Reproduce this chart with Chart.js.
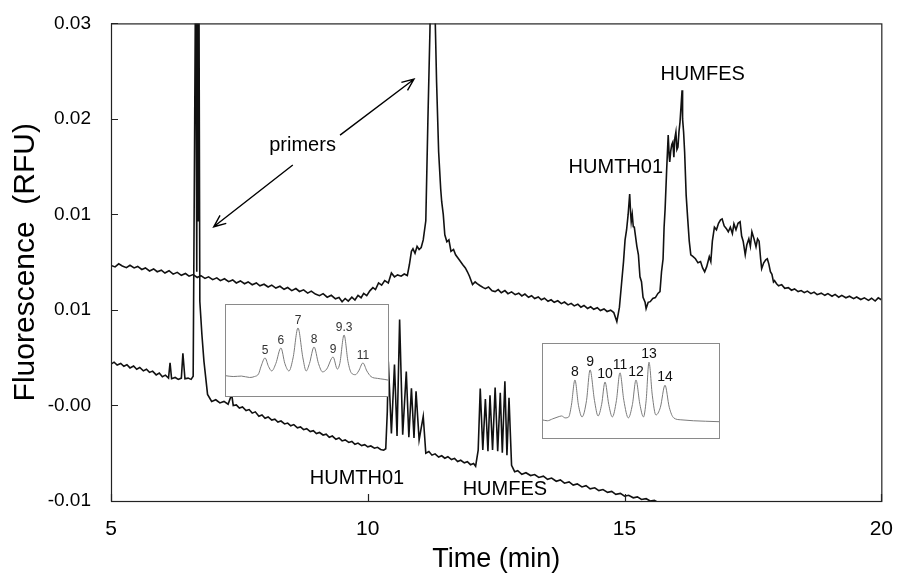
<!DOCTYPE html>
<html>
<head>
  <meta charset="utf-8">
  <title>Fluorescence trace</title>
  <script src="https://cdn.jsdelivr.net/npm/chart.js@4"></script>
  <style>
    html, body { margin: 0; padding: 0; background: #fff; }
    #wrap { position: relative; width: 901px; height: 580px; }
    #mainChart { position: absolute; left: 0; top: 0; }
    .inset { position: absolute; background: #fff; }
    #inset1 { left: 225px; top: 304px; width: 164px; height: 93px; }
    #inset2 { left: 542px; top: 343px; width: 178px; height: 96px; }
  </style>
</head>
<body>
  <div id="wrap">
    <canvas id="mainChart" width="901" height="580"></canvas>
    <div class="inset" id="inset1"><canvas id="inset1Chart"></canvas></div>
    <div class="inset" id="inset2"><canvas id="inset2Chart"></canvas></div>
  </div>

  <script>
    // axis ticks
    const xTickValues = [5, 10, 15, 20];
    const xTickLabels = ['5', '10', '15', '20'];
    const yTickValues = [-0.01, -0.0025, 0.005, 0.0125, 0.02, 0.0275];
    const yTickLabels = ['-0.01', '-0.00', '0.01', '0.01', '0.02', '0.03'];

    // upper electropherogram [time (min), RFU]
    const upperTrace = [
      [5.00,0.00850],[5.08,0.00838],[5.15,0.00862],[5.22,0.00845],[5.30,0.00832],[5.37,0.00851],
      [5.45,0.00830],[5.52,0.00842],[5.60,0.00818],[5.67,0.00830],[5.75,0.00806],[5.83,0.00822],
      [5.90,0.00800],[5.98,0.00812],[6.05,0.00790],[6.13,0.00808],[6.21,0.00781],[6.29,0.00795],
      [6.37,0.00772],[6.45,0.00786],[6.52,0.00765],[6.60,0.00778],[6.68,0.00755],[6.75,0.00770],
      [6.83,0.00748],[6.90,0.00760],[6.98,0.00738],[7.06,0.00752],[7.13,0.00730],[7.21,0.00745],
      [7.29,0.00722],[7.37,0.00736],[7.44,0.00712],[7.52,0.00728],[7.60,0.00706],[7.67,0.00720],
      [7.75,0.00698],[7.83,0.00712],[7.90,0.00690],[7.98,0.00702],[8.06,0.00680],[8.13,0.00695],
      [8.21,0.00672],[8.29,0.00686],[8.37,0.00662],[8.44,0.00676],[8.52,0.00652],[8.60,0.00668],
      [8.67,0.00645],[8.75,0.00658],[8.83,0.00632],[8.90,0.00648],[8.98,0.00625],[9.06,0.00612],
      [9.13,0.00628],[9.21,0.00600],[9.29,0.00615],[9.37,0.00588],[9.44,0.00598],[9.50,0.00565],
      [9.56,0.00590],[9.62,0.00570],[9.69,0.00600],[9.75,0.00578],[9.81,0.00615],[9.87,0.00596],
      [9.92,0.00630],[9.98,0.00612],[10.04,0.00650],[10.10,0.00675],[10.15,0.00660],[10.21,0.00712],
      [10.27,0.00695],[10.33,0.00730],[10.40,0.00712],[10.46,0.00790],[10.52,0.00760],[10.58,0.00775],
      [10.65,0.00765],[10.71,0.00782],[10.77,0.00770],[10.81,0.00855],[10.85,0.00960],[10.88,0.00980],
      [10.92,0.00945],[10.96,0.01000],[11.00,0.00975],[11.04,0.00990],[11.08,0.01050],[11.13,0.01200],
      [11.17,0.01975],[11.21,0.02680],[11.24,0.03400],[11.28,0.03400],[11.31,0.02836],[11.34,0.02288],
      [11.38,0.01740],[11.42,0.01450],[11.44,0.01348],[11.47,0.01250],[11.50,0.01090],[11.54,0.01035],
      [11.58,0.01050],[11.62,0.00960],[11.67,0.00975],[11.71,0.00933],[11.77,0.00900],[11.85,0.00855],
      [11.90,0.00830],[11.94,0.00800],[11.98,0.00765],[12.04,0.00699],[12.09,0.00720],[12.13,0.00706],
      [12.19,0.00690],[12.25,0.00675],[12.29,0.00667],[12.35,0.00680],[12.42,0.00650],[12.48,0.00644],
      [12.54,0.00660],[12.60,0.00635],[12.67,0.00652],[12.73,0.00628],[12.80,0.00642],[12.87,0.00620],
      [12.94,0.00632],[13.00,0.00610],[13.06,0.00625],[13.13,0.00600],[13.19,0.00612],[13.25,0.00590],
      [13.32,0.00602],[13.38,0.00580],[13.44,0.00592],[13.51,0.00568],[13.57,0.00580],[13.63,0.00560],
      [13.70,0.00572],[13.77,0.00550],[13.83,0.00562],[13.90,0.00540],[13.96,0.00552],[14.02,0.00532],
      [14.09,0.00545],[14.15,0.00522],[14.21,0.00535],[14.28,0.00512],[14.34,0.00525],[14.40,0.00505],
      [14.47,0.00518],[14.53,0.00495],[14.60,0.00508],[14.66,0.00488],[14.73,0.00498],[14.79,0.00480],
      [14.85,0.00409],[14.90,0.00520],[14.94,0.00700],[14.98,0.00880],[15.01,0.01050],[15.04,0.01130],
      [15.07,0.01250],[15.10,0.01411],[15.12,0.01250],[15.13,0.01192],[15.15,0.01250],[15.17,0.01153],
      [15.19,0.01150],[15.21,0.01090],[15.24,0.01000],[15.27,0.00933],[15.30,0.00760],[15.33,0.00722],
      [15.36,0.00600],[15.40,0.00560],[15.42,0.00511],[15.46,0.00560],[15.50,0.00565],[15.55,0.00590],
      [15.60,0.00597],[15.65,0.00630],[15.69,0.00644],[15.72,0.00800],[15.75,0.00900],[15.77,0.01150],
      [15.79,0.01294],[15.82,0.01600],[15.85,0.01873],[15.87,0.01700],[15.88,0.01662],[15.90,0.01750],
      [15.92,0.01800],[15.94,0.01818],[15.96,0.01700],[15.98,0.01850],[16.00,0.01897],[16.02,0.01760],
      [16.04,0.01779],[16.06,0.01900],[16.08,0.01975],[16.10,0.02100],[16.12,0.02225],[16.13,0.02000],
      [16.15,0.01897],[16.17,0.01740],[16.20,0.01400],[16.23,0.01215],[16.26,0.01040],[16.29,0.00933],
      [16.33,0.00920],[16.38,0.00902],[16.43,0.00870],[16.48,0.00880],[16.52,0.00830],[16.56,0.00800],
      [16.60,0.00840],[16.65,0.00918],[16.68,0.00880],[16.71,0.01040],[16.75,0.01150],[16.79,0.01129],
      [16.83,0.01180],[16.87,0.01208],[16.90,0.01215],[16.94,0.01160],[16.98,0.01140],[17.02,0.01114],
      [17.06,0.01150],[17.10,0.01100],[17.13,0.01176],[17.17,0.01130],[17.21,0.01180],[17.25,0.01192],
      [17.28,0.01080],[17.31,0.01040],[17.35,0.00933],[17.38,0.01010],[17.42,0.01059],[17.45,0.01000],
      [17.48,0.01114],[17.52,0.01060],[17.56,0.00996],[17.59,0.01059],[17.62,0.01040],[17.65,0.00900],
      [17.67,0.00824],[17.71,0.00870],[17.75,0.00894],[17.78,0.00902],[17.81,0.00860],[17.84,0.00800],
      [17.87,0.00780],[17.90,0.00720],[17.92,0.00730],[17.96,0.00706],[18.00,0.00690],[18.06,0.00699],
      [18.12,0.00670],[18.19,0.00675],[18.25,0.00655],[18.31,0.00665],[18.38,0.00644],[18.44,0.00652],
      [18.50,0.00636],[18.56,0.00648],[18.63,0.00628],[18.69,0.00640],[18.75,0.00620],[18.83,0.00632],
      [18.90,0.00615],[18.96,0.00628],[19.04,0.00608],[19.10,0.00622],[19.17,0.00600],[19.23,0.00615],
      [19.31,0.00596],[19.38,0.00608],[19.46,0.00589],[19.52,0.00602],[19.60,0.00582],[19.67,0.00595],
      [19.75,0.00575],[19.81,0.00592],[19.88,0.00570],[19.94,0.00595],[20.00,0.00580]
    ];

    // lower electropherogram [time (min), RFU]
    const lowerTrace = [
      [5.00,0.00075],[5.06,0.00090],[5.12,0.00068],[5.19,0.00080],[5.25,0.00058],[5.31,0.00070],
      [5.37,0.00045],[5.44,0.00060],[5.50,0.00035],[5.56,0.00048],[5.63,0.00022],[5.69,0.00035],
      [5.75,0.00010],[5.81,0.00020],[5.88,-0.00010],[5.94,0.00005],[6.00,-0.00025],[6.06,-0.00012],
      [6.12,-0.00035],[6.15,0.00085],[6.18,-0.00040],[6.25,-0.00030],[6.31,-0.00045],[6.37,-0.00035],
      [6.40,0.00160],[6.44,-0.00040],[6.50,-0.00035],[6.56,-0.00045],[6.60,-0.00020],[6.63,0.02000],
      [6.65,0.03400],[6.67,0.00800],[6.68,0.03400],[6.70,0.01200],[6.71,0.03400],[6.73,0.00565],
      [6.77,0.00307],[6.81,0.00096],[6.88,-0.00163],
      [6.96,-0.00218],[7.04,-0.00205],[7.12,-0.00230],[7.20,-0.00218],[7.28,-0.00240],[7.35,-0.00163],
      [7.38,-0.00250],[7.44,-0.00245],[7.50,-0.00270],[7.56,-0.00262],[7.63,-0.00290],[7.69,-0.00282],
      [7.75,-0.00310],[7.81,-0.00300],[7.88,-0.00335],[7.94,-0.00325],[8.00,-0.00350],[8.06,-0.00340],
      [8.13,-0.00365],[8.19,-0.00358],[8.25,-0.00380],[8.31,-0.00372],[8.38,-0.00395],[8.44,-0.00388],
      [8.50,-0.00410],[8.56,-0.00400],[8.63,-0.00425],[8.69,-0.00418],[8.75,-0.00440],[8.81,-0.00432],
      [8.88,-0.00455],[8.94,-0.00448],[9.00,-0.00470],[9.06,-0.00462],[9.13,-0.00482],[9.19,-0.00475],
      [9.25,-0.00500],[9.31,-0.00490],[9.38,-0.00515],[9.44,-0.00505],[9.50,-0.00528],[9.56,-0.00520],
      [9.63,-0.00540],[9.69,-0.00532],[9.75,-0.00555],[9.81,-0.00545],[9.88,-0.00565],[9.94,-0.00558],
      [10.00,-0.00575],[10.06,-0.00568],[10.13,-0.00585],[10.19,-0.00578],[10.25,-0.00595],[10.31,-0.00601],
      [10.35,-0.00590],[10.38,-0.00300],[10.40,0.00096],[10.46,-0.00470],[10.52,0.00072],[10.57,-0.00490],
      [10.62,0.00425],[10.68,-0.00480],[10.75,0.00017],[10.80,-0.00500],[10.85,-0.00116],[10.90,-0.00505],
      [10.94,-0.00139],[11.00,-0.00520],[11.08,-0.00335],[11.13,-0.00625],[11.19,-0.00612],[11.25,-0.00640],
      [11.31,-0.00630],[11.38,-0.00655],[11.44,-0.00645],[11.50,-0.00664],[11.56,-0.00652],[11.63,-0.00675],
      [11.69,-0.00665],[11.75,-0.00690],[11.81,-0.00680],[11.88,-0.00700],[11.94,-0.00692],[12.00,-0.00715],
      [12.06,-0.00705],[12.10,-0.00727],[12.15,-0.00600],[12.19,-0.00116],[12.24,-0.00600],[12.29,-0.00200],
      [12.34,-0.00610],[12.38,-0.00170],[12.43,-0.00600],[12.48,-0.00110],[12.53,-0.00610],[12.58,-0.00150],
      [12.62,-0.00620],[12.67,-0.00060],[12.71,-0.00640],[12.75,-0.00190],[12.80,-0.00720],[12.86,-0.00770],
      [12.92,-0.00762],[13.00,-0.00790],[13.08,-0.00778],[13.17,-0.00800],[13.25,-0.00792],[13.33,-0.00815],
      [13.42,-0.00805],[13.50,-0.00830],[13.58,-0.00820],[13.67,-0.00845],[13.75,-0.00835],[13.83,-0.00860],
      [13.92,-0.00850],[14.00,-0.00875],[14.08,-0.00866],[14.17,-0.00890],[14.25,-0.00880],[14.33,-0.00905],
      [14.42,-0.00896],[14.50,-0.00918],[14.58,-0.00910],[14.67,-0.00932],[14.75,-0.00925],[14.83,-0.00948],
      [14.92,-0.00940],[15.00,-0.00962],[15.08,-0.00955],[15.17,-0.00975],[15.25,-0.00968],[15.33,-0.00988],
      [15.42,-0.00982],[15.50,-0.01000],[15.58,-0.00995],[15.67,-0.01015]
    ];

    // text annotations [label, time, RFU]
    const noteLabels = ['primers', 'HUMTH01', 'HUMFES', 'HUMTH01', 'HUMFES'];
    const noteTimes  = [8.73, 14.83, 16.52, 9.79, 12.67];
    const noteValues = [0.01795, 0.01622, 0.02351, -0.00820, -0.00907];
    // arrows from "primers": [startTime, startRFU, endTime, endRFU]
    const arrowLines = [
      [8.54, 0.01638, 7.00, 0.01153],
      [9.46, 0.01873, 10.90, 0.02312]
    ];

    // inset 1 (HUMTH01 alleles), relative position 0-100 / relative signal 0-1
    const inset1Trace = [
      [0,0.23],[5,0.22],[10,0.225],[15,0.21],[18,0.22],[20.5,0.25],[22,0.33],[24.4,0.42],[26.5,0.33],
      [28.5,0.28],[31,0.36],[34.1,0.527],[36.5,0.36],[39,0.28],[41.5,0.42],[44.5,0.742],[47.5,0.42],
      [49.5,0.28],[51.5,0.36],[54.3,0.538],[57,0.36],[59.5,0.27],[62,0.30],[65.9,0.43],[68.5,0.30],
      [70,0.36],[72.6,0.667],[75,0.38],[77,0.26],[79.5,0.24],[81.5,0.28],[84.1,0.366],[86.5,0.28],
      [89,0.22],[93,0.20],[97,0.19],[100,0.18]
    ];
    const inset1PeakX = [24.4, 34.1, 44.5, 54.3, 65.9, 72.6, 84.1];
    const inset1PeakY = [0.42, 0.527, 0.742, 0.538, 0.43, 0.667, 0.366];
    const inset1Labels = ['5', '6', '7', '8', '9', '9.3', '11'];

    // inset 2 (HUMFES alleles)
    const inset2Trace = [
      [0,0.20],[3,0.19],[6,0.21],[9,0.23],[11,0.24],[13,0.22],[15,0.23],[16.5,0.35],[18.5,0.615],
      [20.5,0.35],[22.5,0.23],[25,0.40],[27,0.72],[29.5,0.40],[31.5,0.24],[33.5,0.36],[35.4,0.594],
      [37.5,0.36],[39.5,0.23],[41.8,0.40],[43.8,0.69],[46,0.40],[48.5,0.22],[50.8,0.36],[52.8,0.615],
      [55,0.36],[57,0.23],[58.5,0.40],[60.1,0.80],[62,0.45],[64,0.25],[66.5,0.33],[69.1,0.56],
      [71.5,0.33],[74,0.22],[78,0.20],[85,0.19],[92,0.185],[100,0.18]
    ];
    const inset2PeakX = [18.5, 27, 35.4, 43.8, 52.8, 60.1, 69.1];
    const inset2PeakY = [0.615, 0.72, 0.594, 0.69, 0.615, 0.80, 0.56];
    const inset2Labels = ['8', '9', '10', '11', '12', '13', '14'];

    const toXY = arr => arr.map(p => ({ x: p[0], y: p[1] }));
    const SANS = '"Liberation Sans", Arial, sans-serif';
    const NARROW = '"Liberation Sans Narrow", "Liberation Sans", Arial, sans-serif';

    // frame, inward ticks, labels and arrows on the main plot
    const mainDecor = {
      id: 'mainDecor',
      afterDatasetsDraw(chart) {
        const { ctx, chartArea: a, scales: { x, y } } = chart;
        ctx.save();
        ctx.strokeStyle = '#222';
        ctx.lineWidth = 1.2;
        ctx.strokeRect(a.left + 0.5, a.top + 0.5, a.right - a.left, a.bottom - a.top);
        ctx.beginPath();
        yTickValues.forEach(v => {
          const py = Math.round(y.getPixelForValue(v)) + 0.5;
          ctx.moveTo(a.left, py); ctx.lineTo(a.left + 7, py);
        });
        xTickValues.forEach(v => {
          const px = Math.round(x.getPixelForValue(v)) + 0.5;
          ctx.moveTo(px, a.bottom); ctx.lineTo(px, a.bottom - 7);
        });
        ctx.stroke();

        ctx.fillStyle = '#000';
        ctx.font = '20px ' + SANS;
        ctx.textAlign = 'center';
        ctx.textBaseline = 'middle';
        noteLabels.forEach((t, i) => {
          ctx.fillText(t, x.getPixelForValue(noteTimes[i]), y.getPixelForValue(noteValues[i]));
        });

        ctx.lineWidth = 1.4;
        ctx.strokeStyle = '#000';
        arrowLines.forEach(l => {
          const x0 = x.getPixelForValue(l[0]), y0 = y.getPixelForValue(l[1]);
          const x1 = x.getPixelForValue(l[2]), y1 = y.getPixelForValue(l[3]);
          const ang = Math.atan2(y1 - y0, x1 - x0);
          ctx.beginPath();
          ctx.moveTo(x0, y0); ctx.lineTo(x1, y1);
          ctx.moveTo(x1 - 13 * Math.cos(ang - 0.4), y1 - 13 * Math.sin(ang - 0.4));
          ctx.lineTo(x1, y1);
          ctx.lineTo(x1 - 13 * Math.cos(ang + 0.4), y1 - 13 * Math.sin(ang + 0.4));
          ctx.stroke();
        });
        ctx.restore();
      }
    };

    new Chart(document.getElementById('mainChart'), {
      type: 'line',
      data: {
        datasets: [
          { label: 'upper', data: toXY(upperTrace), borderColor: '#111', borderWidth: 1.6, pointRadius: 0, tension: 0 },
          { label: 'lower', data: toXY(lowerTrace), borderColor: '#111', borderWidth: 1.6, pointRadius: 0, tension: 0 }
        ]
      },
      options: {
        responsive: false,
        animation: false,
        devicePixelRatio: 1,
        layout: { padding: { left: 0, right: 10, top: 21, bottom: 0 } },
        plugins: { legend: { display: false }, tooltip: { enabled: false } },
        scales: {
          x: {
            type: 'linear', min: 5, max: 20,
            grid: { display: false }, border: { display: false },
            afterBuildTicks: s => { s.ticks = xTickValues.map(v => ({ value: v })); },
            afterFit: s => { s.height = 79; },
            ticks: {
              autoSkip: false, maxRotation: 0, padding: 8, color: '#000',
              font: { family: NARROW, size: 21 },
              callback: (v, i) => xTickLabels[i]
            },
            title: {
              display: true, text: 'Time (min)', color: '#000',
              font: { family: NARROW, size: 27 }, padding: { top: 0, bottom: 4 }
            }
          },
          y: {
            type: 'linear', min: -0.01, max: 0.0275,
            grid: { display: false }, border: { display: false },
            afterBuildTicks: s => { s.ticks = yTickValues.map(v => ({ value: v })); },
            afterFit: s => { s.width = 111; },
            ticks: {
              autoSkip: false, padding: 12, color: '#000',
              font: { family: SANS, size: 19 },
              callback: (v, i) => yTickLabels[i]
            },
            title: {
              display: true, text: 'Fluorescence  (RFU)', color: '#000',
              font: { family: SANS, size: 30 }, padding: { top: 8, bottom: 0 }
            }
          }
        }
      },
      plugins: [mainDecor]
    });

    function makeInset(id, trace, peakX, peakY, labels, fontSize, labelColor) {
      const decor = {
        id: 'insetDecor',
        afterDatasetsDraw(chart) {
          const { ctx, chartArea: a, scales: { x, y } } = chart;
          ctx.save();
          ctx.strokeStyle = '#8a8a8a';
          ctx.lineWidth = 1;
          ctx.strokeRect(a.left + 0.5, a.top + 0.5, a.right - a.left - 1, a.bottom - a.top - 1);
          ctx.fillStyle = labelColor;
          ctx.font = fontSize + 'px ' + SANS;
          ctx.textAlign = 'center';
          ctx.textBaseline = 'bottom';
          labels.forEach((t, i) => {
            ctx.fillText(t, x.getPixelForValue(peakX[i]), y.getPixelForValue(peakY[i]) - 1);
          });
          ctx.restore();
        }
      };
      const el = document.getElementById(id);
      return new Chart(el, {
        type: 'line',
        data: { datasets: [{ data: toXY(trace), borderColor: '#7a7a7a', borderWidth: 1, pointRadius: 0, cubicInterpolationMode: 'monotone' }] },
        options: {
          responsive: true, maintainAspectRatio: false, animation: false, devicePixelRatio: 1,
          layout: { padding: 0 },
          plugins: { legend: { display: false }, tooltip: { enabled: false } },
          scales: {
            x: { type: 'linear', min: 0, max: 100, display: false },
            y: { type: 'linear', min: 0, max: 1, display: false }
          }
        },
        plugins: [decor]
      });
    }

    makeInset('inset1Chart', inset1Trace, inset1PeakX, inset1PeakY, inset1Labels, 12, '#333');
    makeInset('inset2Chart', inset2Trace, inset2PeakX, inset2PeakY, inset2Labels, 14, '#111');
  </script>
</body>
</html>
